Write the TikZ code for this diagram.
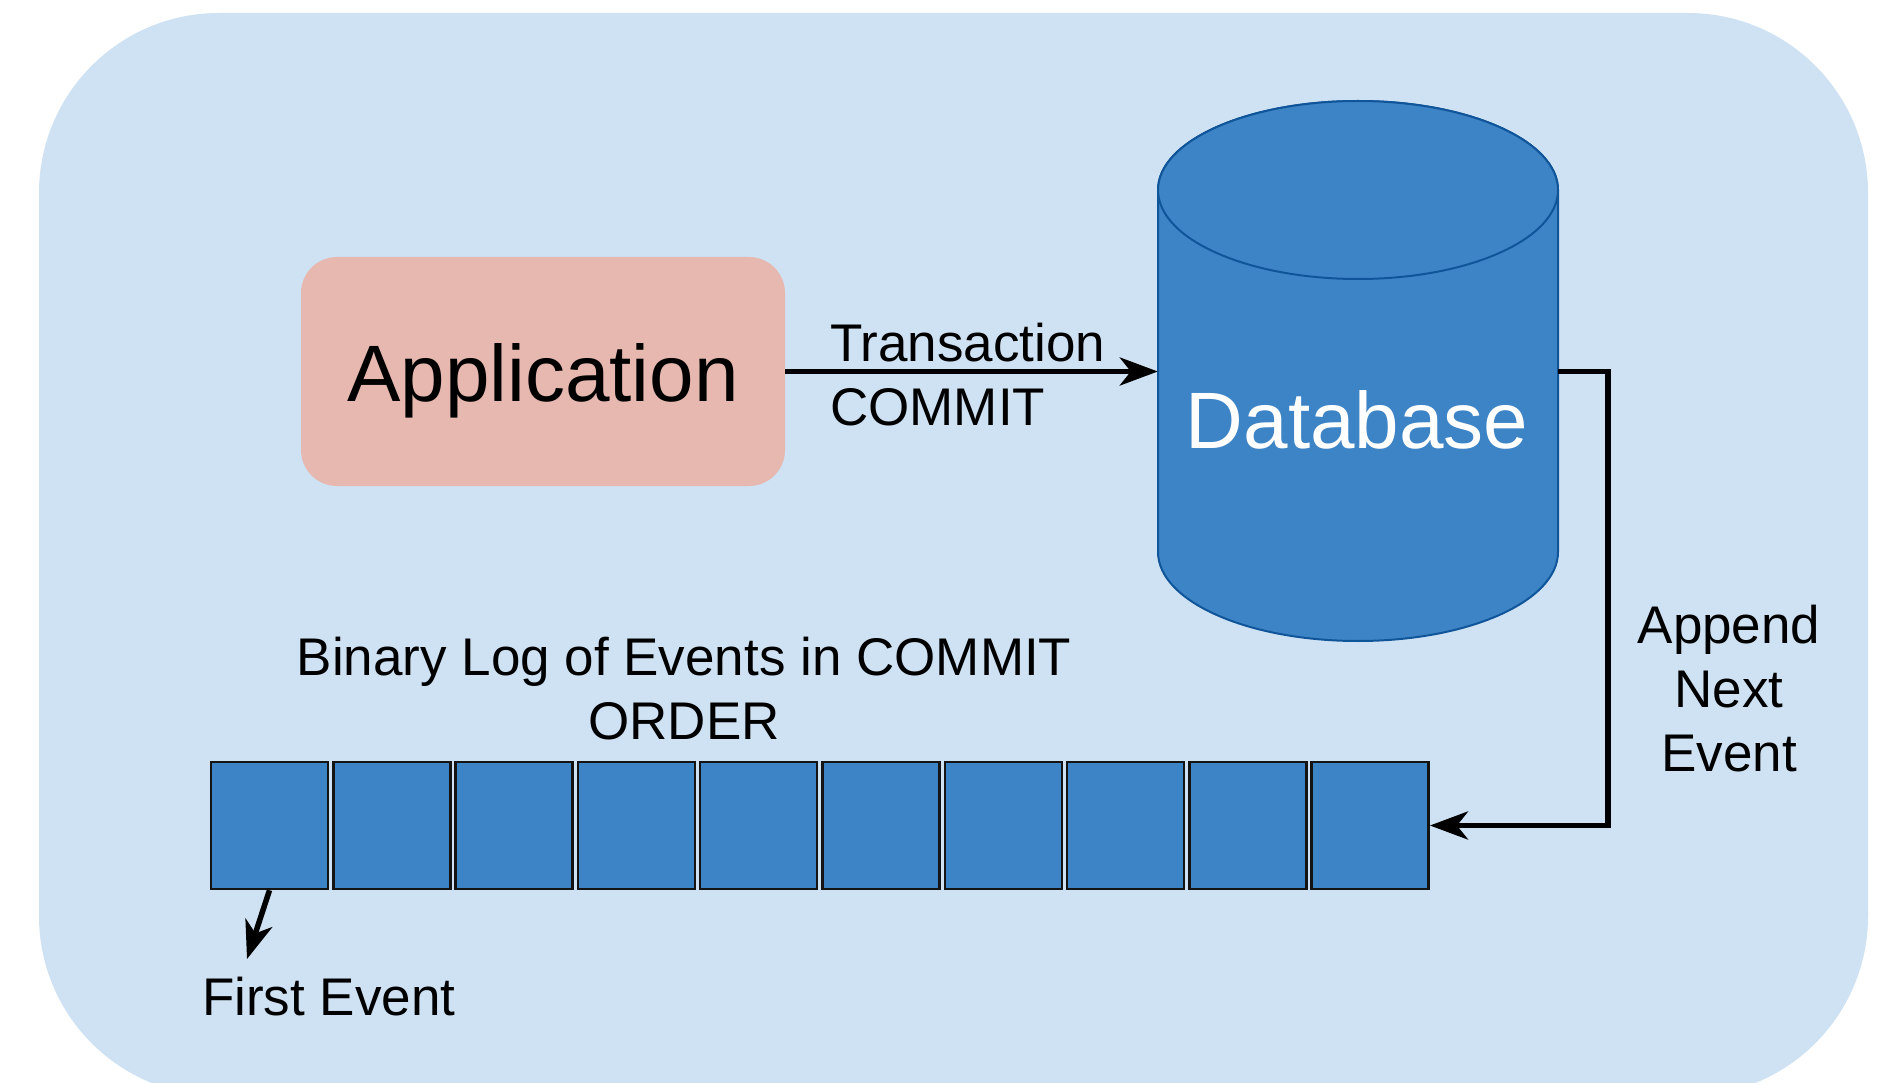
\documentclass[tikz,border=0pt]{standalone}
\usepackage{fontspec}
\setmainfont{Liberation Sans}
\usetikzlibrary{arrows.meta}

\definecolor{panelblue}{HTML}{CFE2F3}
\definecolor{appred}{HTML}{E6B8AF}
\definecolor{dbblue}{HTML}{3D84C6}
\definecolor{dbline}{HTML}{10559A}

\tikzset{
  conn/.style={draw=black, line width=5.5pt,
    -{Stealth[length=38pt,width=28pt,inset=11pt]}},
  lbl/.style={font=\fontsize{53}{64}\selectfont, text=black, inner sep=0pt},
  bigtext/.style={font=\fontsize{80}{96}\selectfont, inner sep=0pt},
  appbox/.style={fill=appred, rounded corners=36pt, minimum width=484pt,
    minimum height=229pt, bigtext, text height=60pt, text depth=0pt},
  logbox/.style={draw=black!92, fill=dbblue, line width=2.5pt,
    minimum width=117pt, minimum height=127pt, inner sep=0pt},
  dbshape/.style={fill=dbblue, draw=dbline, line width=2pt},
}

\begin{document}
\begin{tikzpicture}[x=1pt, y=-1pt]
  % canvas and rounded panel
  \clip (0,0) rectangle (1891,1083);
  \fill[white] (0,0) rectangle (1891,1083);
  \fill[panelblue, rounded corners=180pt] (39,13) rectangle (1868,1096);

  % application
  \node[appbox] (app) at (543,371.5) {Application};

  % database cylinder
  \path[dbshape] (1158,190) -- (1158,552)
      arc[start angle=180, end angle=0, x radius=200, y radius=89]
      -- (1558,190)
      arc[start angle=0, end angle=-180, x radius=200, y radius=89] -- cycle;
  \path[dbshape] (1358,190) ellipse [x radius=200, y radius=89];
  \node[minimum width=400pt, minimum height=542pt, inner sep=0pt] (db) at (1358,372) {};
  \node[bigtext, text=white] (dbtext) at (1357,420) {Database};

  % commit arrow and its label
  \draw[conn] (app.east) -- (app.east -| db.west);
  \node[lbl, anchor=base west] (trans) at (830,362) {Transaction};
  \node[lbl, anchor=base west] (commit) at (830,425) {COMMIT};

  % binary log cells
  \foreach \i in {0,...,9}
    \node[logbox] (e\i) at ({269.5+122.3*\i},825.5) {};
  \node[lbl, align=center, anchor=north] (logtitle) at (684,636.5)
    {Binary Log of Events in COMMIT\\ORDER};

  % append connector
  \draw[conn] (app.east -| db.east) -- ++(50,0) |- (e9.east);
  \node[lbl, align=center, anchor=north] (append) at (1729,605)
    {Append\\Next\\Event};

  % first event pointer
  \coordinate (fe) at (247,959);
  \draw[conn] (e0.south) -- (fe);
  \node[lbl, anchor=base west] (first) at (202,1015) {First Event};
\end{tikzpicture}
\end{document}
